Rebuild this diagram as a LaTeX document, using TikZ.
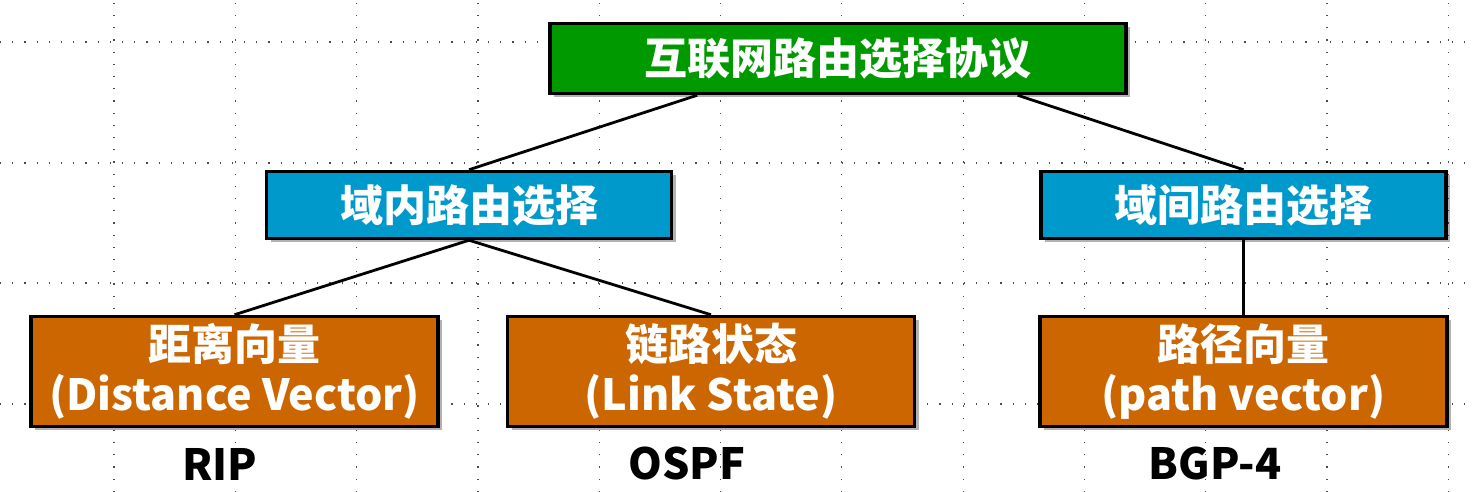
\documentclass[tikz,border=0pt]{standalone}
\usepackage{fontspec}
\setmainfont{Noto Sans CJK SC}
\usetikzlibrary{shadows,calc}

\definecolor{topgreen}{HTML}{009900}
\definecolor{domblue}{HTML}{0099CC}
\definecolor{algorange}{HTML}{CC6600}

\begin{document}
\begin{tikzpicture}[x=1pt,y=1pt,
    box/.style={draw=black,line width=3.5pt,text=white,inner sep=0pt,align=center,
      font=\bfseries\fontsize{43}{50}\selectfont,
      drop shadow={shadow xshift=4pt,shadow yshift=-4pt,opacity=0.3,fill=black}},
    topbox/.style={box,fill=topgreen,minimum width=576pt,minimum height=70pt},
    domainbox/.style={box,fill=domblue,minimum width=405pt,minimum height=67pt},
    algobox/.style={box,fill=algorange,minimum width=407pt,minimum height=110pt},
    protolabel/.style={font=\bfseries\fontsize{43}{50}\selectfont,text=black,inner sep=0pt},
    gridline/.style={black!70,line width=1.2pt,dash pattern=on 1.2pt off 11pt},
    link/.style={black,line width=2.8pt}]
  \useasboundingbox (0,0) rectangle (1473,492);

  % background grid
  \foreach \i in {0,...,11}
    \draw[gridline] ({114+121.3*\i},0) -- ({114+121.3*\i},492);
  \foreach \gy in {450,329,209,88}
    \draw[gridline] (0,\gy) -- (1473,\gy);

  % boxes
  \node[topbox] (root) at (838,433.5) {互联网路由选择协议};
  \node[domainbox] (intra) at (469,287) {域内路由选择};
  \node[domainbox] (inter) at (1243.5,287) {域间路由选择};
  \node[algobox] (dv) at (234.5,120.5) {距离向量\\(Distance Vector)};
  \node[algobox] (ls) at (711,120.5) {链路状态\\(Link State)};
  \node[algobox] (pv) at (1243.5,120.5) {路径向量\\(path vector)};

  % protocols
  \node[protolabel] (rip) at (220,28) {RIP};
  \node[protolabel] (ospf) at (687,28) {OSPF};
  \node[protolabel] (bgp) at (1215,28) {BGP-4};

  % connectors
  \draw[link] ($(root.south west)!0.257!(root.south east)$) -- (intra.north);
  \draw[link] ($(root.south west)!0.81!(root.south east)$) -- (inter.north);
  \draw[link] (intra.south) -- (dv.north);
  \draw[link] (intra.south) -- (ls.north);
  \draw[link] (inter.south) -- (pv.north);
\end{tikzpicture}
\end{document}
